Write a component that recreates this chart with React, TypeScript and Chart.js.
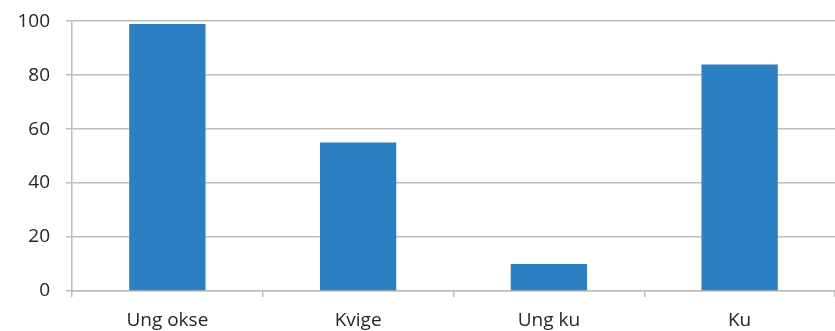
import React, { useEffect, useRef } from "react";
import { Chart, registerables } from "chart.js";

Chart.register(...registerables);

const categories: string[] = ["Ung okse", "Kvige", "Ung ku", "Ku"];
const counts: number[] = [99, 55, 10, 84];
const yTicks: number[] = [0, 20, 40, 60, 80, 100];

const BAR_BLUE = "#2b7fc3";
const GRID_GREY = "#bdbdbd";
const TEXT_DARK = "#262626";
const FONT = "'Open Sans', 'Noto Sans', sans-serif";

export default function App() {
  const canvasRef = useRef<HTMLCanvasElement | null>(null);

  useEffect(() => {
    const canvas = canvasRef.current;
    if (!canvas) return;
    const chart = new Chart(canvas, {
      type: "bar",
      data: {
        labels: categories,
        datasets: [
          {
            data: counts,
            backgroundColor: BAR_BLUE,
            borderWidth: 0,
            categoryPercentage: 1,
            barPercentage: 0.4,
          },
        ],
      },
      options: {
        animation: false,
        responsive: false,
        maintainAspectRatio: false,
        layout: { padding: 0 },
        plugins: {
          legend: { display: false },
          tooltip: { enabled: false },
        },
        scales: {
          x: {
            offset: true,
            grid: {
              offset: true,
              drawOnChartArea: false,
              drawTicks: true,
              tickLength: 6,
              color: GRID_GREY,
              lineWidth: 1.5,
            },
            border: { display: true, color: GRID_GREY, width: 1.5 },
            ticks: {
              color: TEXT_DARK,
              font: { family: FONT, size: 19 },
              padding: 12,
              maxRotation: 0,
            },
            afterFit: (scale: any) => {
              scale.height = 40;
            },
          },
          y: {
            min: 0,
            max: 100,
            afterBuildTicks: (scale: any) => {
              scale.ticks = yTicks.map((v) => ({ value: v }));
            },
            grid: {
              color: GRID_GREY,
              lineWidth: 1.5,
              tickLength: 6,
              drawTicks: true,
            },
            border: { display: true, color: GRID_GREY, width: 1.5 },
            ticks: {
              color: TEXT_DARK,
              font: { family: FONT, size: 19, lineHeight: 0.55 },
              padding: 16,
            },
            afterFit: (scale: any) => {
              scale.width = 72;
            },
          },
        },
      },
    });
    return () => chart.destroy();
  }, []);

  return (
    <div style={{ position: "absolute", left: 0, top: 0, width: 835, height: 331, background: "#fff" }}>
      <canvas ref={canvasRef} width={835} height={331} style={{ display: "block" }} />
    </div>
  );
}
